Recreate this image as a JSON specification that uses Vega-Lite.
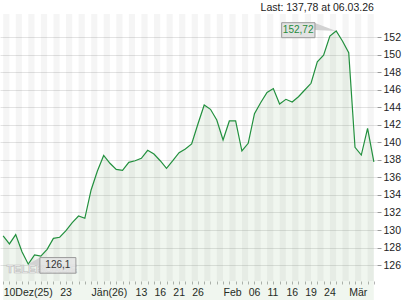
{
  "$schema": "https://vega.github.io/schema/vega-lite/v6.json",
  "width": 377,
  "height": 267,
  "autosize": {"type": "none"},
  "padding": {"left": 0, "top": 14, "right": 43, "bottom": 19},
  "background": "white",
  "config": {
    "view": {"stroke": null},
    "font": "Liberation Sans",
    "locale": {"number": {"decimal": ",", "thousands": ".", "grouping": [3], "currency": ["", " €"]}}
  },
  "data": {
    "values": [
      {"i": 0, "date": "2025-12-10", "close": 129.32},
      {"i": 1, "date": "2025-12-11", "close": 128.41},
      {"i": 2, "date": "2025-12-12", "close": 129.47},
      {"i": 3, "date": "2025-12-15", "close": 127.53},
      {"i": 4, "date": "2025-12-16", "close": 126.10},
      {"i": 5, "date": "2025-12-17", "close": 127.15},
      {"i": 6, "date": "2025-12-18", "close": 127.03},
      {"i": 7, "date": "2025-12-19", "close": 127.80},
      {"i": 8, "date": "2025-12-22", "close": 129.05},
      {"i": 9, "date": "2025-12-23", "close": 129.17},
      {"i": 10, "date": "2025-12-24", "close": 129.92},
      {"i": 11, "date": "2025-12-29", "close": 130.84},
      {"i": 12, "date": "2025-12-30", "close": 131.60},
      {"i": 13, "date": "2025-12-31", "close": 131.34},
      {"i": 14, "date": "2026-01-02", "close": 134.57},
      {"i": 15, "date": "2026-01-05", "close": 136.74},
      {"i": 16, "date": "2026-01-06", "close": 138.51},
      {"i": 17, "date": "2026-01-07", "close": 137.62},
      {"i": 18, "date": "2026-01-08", "close": 136.93},
      {"i": 19, "date": "2026-01-09", "close": 136.82},
      {"i": 20, "date": "2026-01-12", "close": 137.73},
      {"i": 21, "date": "2026-01-13", "close": 137.91},
      {"i": 22, "date": "2026-01-14", "close": 138.19},
      {"i": 23, "date": "2026-01-15", "close": 139.10},
      {"i": 24, "date": "2026-01-16", "close": 138.68},
      {"i": 25, "date": "2026-01-19", "close": 137.91},
      {"i": 26, "date": "2026-01-20", "close": 137.05},
      {"i": 27, "date": "2026-01-21", "close": 137.91},
      {"i": 28, "date": "2026-01-22", "close": 138.83},
      {"i": 29, "date": "2026-01-23", "close": 139.25},
      {"i": 30, "date": "2026-01-26", "close": 139.82},
      {"i": 31, "date": "2026-01-27", "close": 142.10},
      {"i": 32, "date": "2026-01-28", "close": 144.27},
      {"i": 33, "date": "2026-01-29", "close": 143.78},
      {"i": 34, "date": "2026-01-30", "close": 142.56},
      {"i": 35, "date": "2026-02-02", "close": 140.28},
      {"i": 36, "date": "2026-02-03", "close": 142.45},
      {"i": 37, "date": "2026-02-04", "close": 142.45},
      {"i": 38, "date": "2026-02-05", "close": 139.02},
      {"i": 39, "date": "2026-02-06", "close": 139.90},
      {"i": 40, "date": "2026-02-09", "close": 143.28},
      {"i": 41, "date": "2026-02-10", "close": 144.56},
      {"i": 42, "date": "2026-02-11", "close": 145.70},
      {"i": 43, "date": "2026-02-12", "close": 146.15},
      {"i": 44, "date": "2026-02-13", "close": 144.39},
      {"i": 45, "date": "2026-02-16", "close": 144.92},
      {"i": 46, "date": "2026-02-17", "close": 144.61},
      {"i": 47, "date": "2026-02-18", "close": 145.22},
      {"i": 48, "date": "2026-02-19", "close": 145.98},
      {"i": 49, "date": "2026-02-20", "close": 146.75},
      {"i": 50, "date": "2026-02-23", "close": 149.21},
      {"i": 51, "date": "2026-02-24", "close": 149.95},
      {"i": 52, "date": "2026-02-25", "close": 152.15},
      {"i": 53, "date": "2026-02-26", "close": 152.72},
      {"i": 54, "date": "2026-02-27", "close": 151.58},
      {"i": 55, "date": "2026-03-02", "close": 150.24},
      {"i": 56, "date": "2026-03-03", "close": 139.44},
      {"i": 57, "date": "2026-03-04", "close": 138.56},
      {"i": 58, "date": "2026-03-05", "close": 141.61},
      {"i": 59, "date": "2026-03-06", "close": 137.78}
    ]
  },
  "encoding": {
    "x": {
      "field": "i",
      "type": "quantitative",
      "scale": {"domain": [-0.5, 59.5], "nice": false, "zero": false},
      "axis": {
        "title": null,
        "grid": false,
        "domain": false,
        "values": [0,1,2,3,4,5,6,7,8,9,10,11,12,13,14,15,16,17,18,19,20,21,22,23,24,25,26,27,28,29,30,31,32,33,34,35,36,37,38,39,40,41,42,43,44,45,46,47,48,49,50,51,52,53,54,55,56,57,58,59],
        "tickColor": "#b4b4b4",
        "tickSize": 3,
        "labelAlign": "left",
        "labelOverlap": false,
        "labelFlush": false,
        "labelBound": false,
        "labelPadding": 3,
        "labelFontSize": 10.5,
        "labelColor": "#222",
        "labelExpr": "datum.value==0?'10Dez(25)':datum.value==9?'23':datum.value==14?'Jän(26)':datum.value==21?'13':datum.value==24?'16':datum.value==27?'21':datum.value==30?'26':datum.value==35?'Feb':datum.value==39?'06':datum.value==42?'11':datum.value==45?'16':datum.value==48?'19':datum.value==51?'24':datum.value==55?'Mär':''"
      }
    },
    "y": {
      "field": "close",
      "type": "quantitative",
      "scale": {"domain": [124.18, 154.66], "nice": false, "zero": false},
      "axis": {
        "orient": "right",
        "title": null,
        "values": [126,128,130,132,134,136,138,140,142,144,146,148,150,152],
        "format": "d",
        "domain": false,
        "grid": true,
        "gridColor": "#e3e3e3",
        "tickColor": "#999",
        "tickSize": 4,
        "labelPadding": 2,
        "labelOverlap": false,
        "labelFontSize": 10.5,
        "labelColor": "#222"
      }
    }
  },
  "layer": [
    {
      "transform": [{"filter": "datum.i % 2 == 0"}],
      "mark": {"type": "rule", "color": "#000", "opacity": 0.04, "strokeWidth": 6.28, "xOffset": 3.14},
      "encoding": {
        "y": {"datum": 154.66},
        "y2": {"datum": 124.18}
      }
    },
    {
      "mark": {"type": "area", "color": "#4c9a44", "opacity": 0.085}
    },
    {
      "mark": {"type": "line", "color": "#22903e", "strokeWidth": 1.2}
    },
    {
      "transform": [{"filter": "datum.i == 0"}],
      "mark": {"type": "text", "text": "TELEBÖRSE", "align": "left", "baseline": "middle", "fontSize": 11.5, "fontWeight": "bold", "fill": "#f2f2f2", "stroke": "#bcbcbc", "strokeWidth": 0.7},
      "encoding": {
        "x": {"datum": 0.55},
        "y": {"datum": 125.4}
      }
    },
    {
      "transform": [{"filter": "datum.i == 53"}],
      "mark": {"type": "point", "shape": "M -21.2 -8 L 0 0 L -21.2 -1 Z", "size": 4, "filled": true, "fill": "#d2d2d2", "strokeWidth": 0, "opacity": 1}
    },
    {
      "transform": [{"filter": "datum.i == 53"}],
      "mark": {"type": "point", "shape": "M -54.5 -8.3 L -21.2 -8.3 L -21.2 6.7 L -54.5 6.7 Z", "size": 4, "filled": true, "fill": "#e3e3e3", "stroke": "#9a9a9a", "strokeWidth": 1, "opacity": 1}
    },
    {
      "transform": [{"filter": "datum.i == 53"}],
      "mark": {"type": "text", "dx": -38, "dy": -0.8, "align": "center", "baseline": "middle", "fontSize": 10, "color": "#1f8b3b"},
      "encoding": {
        "text": {"field": "close", "type": "quantitative", "format": ".2~f"}
      }
    },
    {
      "transform": [{"filter": "datum.i == 4"}],
      "mark": {"type": "point", "shape": "M 11.6 -6.6 L 0 0 L 11.6 1 Z", "size": 4, "filled": true, "fill": "#d2d2d2", "strokeWidth": 0, "opacity": 1}
    },
    {
      "transform": [{"filter": "datum.i == 4"}],
      "mark": {"type": "point", "shape": "M 11.6 -6.6 L 47.6 -6.6 L 47.6 9 L 11.6 9 Z", "size": 4, "filled": true, "fill": "#e3e3e3", "fillOpacity": 0.8, "stroke": "#9a9a9a", "strokeWidth": 1, "opacity": 1}
    },
    {
      "transform": [{"filter": "datum.i == 4"}],
      "mark": {"type": "text", "dx": 29.6, "dy": 0.5, "align": "center", "baseline": "middle", "fontSize": 10, "color": "#333"},
      "encoding": {
        "text": {"field": "close", "type": "quantitative", "format": ".2~f"}
      }
    },
    {
      "transform": [{"filter": "datum.i == 59"}],
      "mark": {"type": "text", "text": "Last: 137,78 at 06.03.26", "align": "right", "baseline": "alphabetic", "dy": -3, "fontSize": 10.5, "color": "#222"},
      "encoding": {
        "y": {"datum": 154.66}
      }
    }
  ]
}
